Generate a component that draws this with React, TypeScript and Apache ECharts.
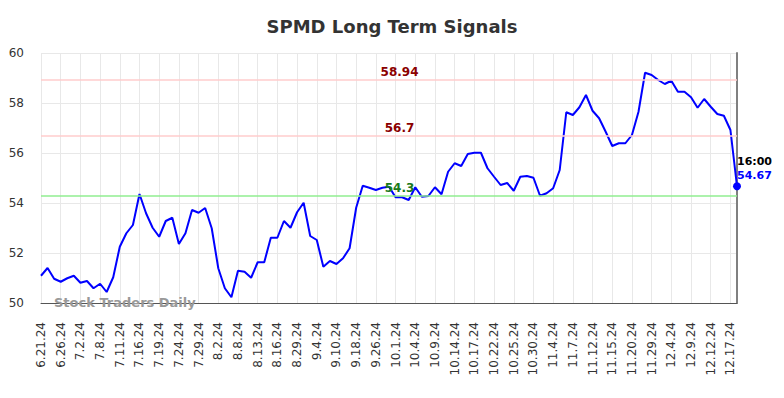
import React, { useEffect, useRef } from "react";
import * as echarts from "echarts";

const dates: string[] = [
  "6.21.24", "6.24.24", "6.25.24",
  "6.26.24", "6.27.24", "7.1.24",
  "7.2.24", "7.3.24", "7.5.24",
  "7.8.24", "7.9.24", "7.10.24",
  "7.11.24", "7.12.24", "7.15.24",
  "7.16.24", "7.17.24", "7.18.24",
  "7.19.24", "7.22.24", "7.23.24",
  "7.24.24", "7.25.24", "7.26.24",
  "7.29.24", "7.30.24", "8.1.24",
  "8.2.24", "8.5.24", "8.6.24",
  "8.8.24", "8.9.24", "8.12.24",
  "8.13.24", "8.14.24", "8.15.24",
  "8.16.24", "8.19.24", "8.22.24",
  "8.29.24", "8.30.24", "9.3.24",
  "9.4.24", "9.5.24", "9.9.24",
  "9.10.24", "9.12.24", "9.16.24",
  "9.18.24", "9.20.24", "9.24.24",
  "9.26.24", "9.27.24", "9.30.24",
  "10.1.24", "10.2.24", "10.3.24",
  "10.4.24", "10.7.24", "10.8.24",
  "10.9.24", "10.10.24", "10.11.24",
  "10.14.24", "10.15.24", "10.16.24",
  "10.17.24", "10.18.24", "10.21.24",
  "10.22.24", "10.23.24", "10.24.24",
  "10.25.24", "10.28.24", "10.29.24",
  "10.30.24", "10.31.24", "11.1.24",
  "11.4.24", "11.5.24", "11.6.24",
  "11.7.24", "11.8.24", "11.11.24",
  "11.12.24", "11.13.24", "11.14.24",
  "11.15.24", "11.18.24", "11.19.24",
  "11.20.24", "11.22.24", "11.26.24",
  "11.29.24", "12.2.24", "12.3.24",
  "12.4.24", "12.5.24", "12.6.24",
  "12.9.24", "12.10.24", "12.11.24",
  "12.12.24", "12.13.24", "12.16.24",
  "12.17.24", "12.18.24",
];

const prices: number[] = [
  51.09, 51.40, 50.97, 50.85, 50.99, 51.09, 50.81, 50.88, 50.59, 50.77,
  50.44, 51.03, 52.25, 52.79, 53.12, 54.36, 53.59, 53.01, 52.65, 53.28,
  53.41, 52.36, 52.79, 53.72, 53.61, 53.80, 52.99, 51.39, 50.59, 50.23,
  51.29, 51.25, 51.01, 51.63, 51.63, 52.61, 52.61, 53.28, 53.01, 53.63,
  54.01, 52.68, 52.52, 51.45, 51.68, 51.56, 51.79, 52.19, 53.81, 54.69,
  54.61, 54.52, 54.61, 54.65, 54.23, 54.23, 54.12, 54.63, 54.25, 54.28,
  54.63, 54.35, 55.25, 55.59, 55.48, 55.96, 56.01, 56.01, 55.39, 55.05,
  54.72, 54.80, 54.49, 55.05, 55.08, 55.01, 54.29, 54.39, 54.59, 55.32,
  57.63, 57.52, 57.83, 58.32, 57.69, 57.39, 56.85, 56.28, 56.39, 56.39,
  56.72, 57.65, 59.21, 59.12, 58.92, 58.76, 58.89, 58.45, 58.45, 58.23,
  57.81, 58.16, 57.85, 57.56, 57.49, 56.92, 54.67,
];

const resistanceLevels: number[] = [58.94, 56.7];
const supportLevels: number[] = [54.3];
const lastTime = "16:00";

const FONT = "DejaVu Sans";

export default function App() {
  const ref = useRef<HTMLDivElement>(null);

  useEffect(() => {
    document.body.style.margin = "0";
    if (!ref.current) return;
    const chart = echarts.init(ref.current, undefined, { renderer: "svg" });
    const lastIdx = prices.length - 1;
    const lastVal = prices[lastIdx];
    const labelIdx = 54;

    const levelLines = [
      ...resistanceLevels.map((v) => ({
        yAxis: v,
        lineStyle: { color: "#ffcccc", width: 1.5, type: "solid" as const },
      })),
      ...supportLevels.map((v) => ({
        yAxis: v,
        lineStyle: { color: "#90ee90", width: 1.5, type: "solid" as const },
      })),
    ];

    const levelLabel = (v: number, color: string) => ({
      coord: [labelIdx, v],
      symbol: "circle",
      symbolSize: 1,
      itemStyle: { color: "rgba(0,0,0,0)" },
      label: {
        show: true,
        position: "inside",
        offset: [4, -7.5],
        formatter: String(v),
        color,
        fontSize: 12,
        fontWeight: "bold",
        fontFamily: FONT,
      },
    });

    chart.setOption({
      animation: false,
      title: {
        text: "SPMD Long Term Signals",
        left: "center",
        top: 17,
        padding: 0,
        textStyle: {
          fontSize: 18,
          fontWeight: "bold",
          color: "#333",
          fontFamily: FONT,
        },
      },
      grid: { left: 41, right: 47, top: 53, bottom: 95, containLabel: false },
      xAxis: {
        type: "category",
        data: dates,
        boundaryGap: false,
        axisLine: { show: true, onZero: false, lineStyle: { color: "#555", width: 1 } },
        axisTick: { show: false },
        axisLabel: {
          interval: 2,
          rotate: 90,
          margin: 19,
          fontSize: 12,
          color: "#333",
          fontFamily: FONT,
        },
        splitLine: { show: true, interval: 2, lineStyle: { color: "#e8e8e8", width: 1 } },
      },
      yAxis: [
        {
          type: "value",
          min: 50,
          max: 60,
          interval: 2,
          position: "left",
          axisLine: { show: false },
          axisTick: { show: false },
          axisLabel: { fontSize: 12, color: "#333", margin: 17, fontFamily: FONT },
          splitLine: { show: true, lineStyle: { color: "#e8e8e8", width: 1 } },
        },
        {
          type: "value",
          min: 50,
          max: 60,
          interval: 2,
          position: "right",
          axisLine: { show: true, lineStyle: { color: "#808080", width: 2 } },
          axisTick: { show: false },
          axisLabel: { show: false },
          splitLine: { show: false },
        },
      ],
      graphic: [
        {
          type: "text",
          left: 54,
          top: 296,
          z: 100,
          style: {
            text: "Stock Traders Daily",
            fontSize: 13,
            fontWeight: "bold",
            fontFamily: FONT,
            fill: "#999",
          },
        },
      ],
      series: [
        {
          type: "line",
          data: prices,
          yAxisIndex: 0,
          showSymbol: false,
          lineStyle: { color: "#0000ff", width: 2 },
          itemStyle: { color: "#0000ff" },
          markLine: {
            silent: true,
            symbol: "none",
            label: { show: false },
            data: levelLines,
          },
          markPoint: {
            silent: true,
            data: [
              ...resistanceLevels.map((v) => levelLabel(v, "#8b0000")),
              ...supportLevels.map((v) => levelLabel(v, "#1a7a1a")),
              {
                coord: [lastIdx, lastVal],
                symbol: "circle",
                symbolSize: 8,
                itemStyle: { color: "#0000ff" },
                label: {
                  show: true,
                  position: [4, -27.5],
                  formatter: `{t|${lastTime}}\n{v|${lastVal}}`,
                  rich: {
                    t: { color: "#000", fontWeight: "bold", fontSize: 11, lineHeight: 14, fontFamily: FONT },
                    v: { color: "#0000ff", fontWeight: "bold", fontSize: 11, lineHeight: 14, fontFamily: FONT },
                  },
                },
              },
            ],
          },
        },
      ],
    });

    return () => chart.dispose();
  }, []);

  return <div ref={ref} style={{ width: 784, height: 398 }} />;
}
